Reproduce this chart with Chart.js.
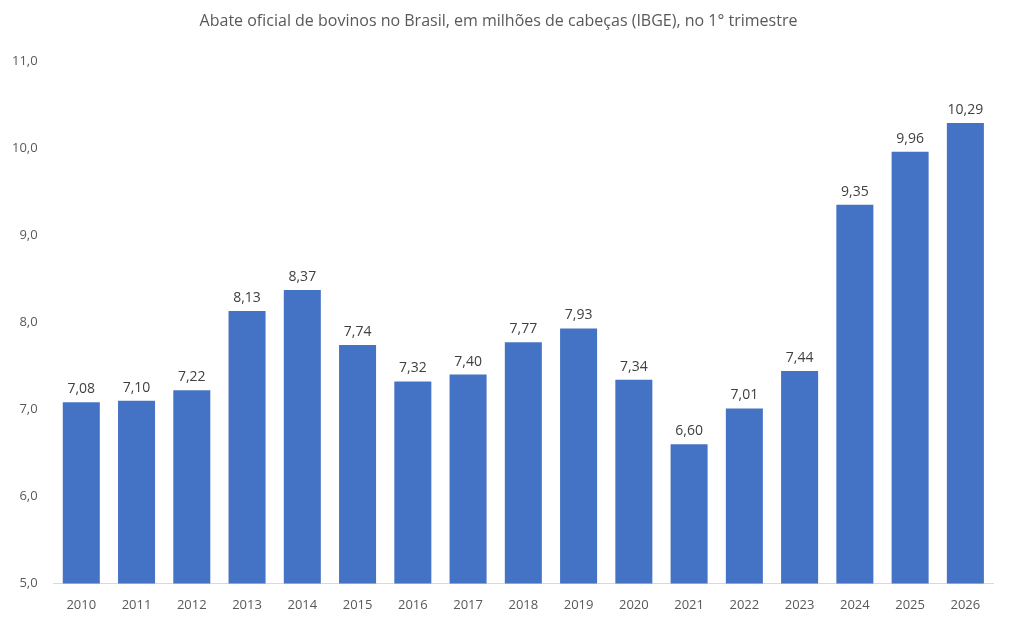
<!DOCTYPE html>
<html>
<head>
<meta charset="utf-8">
<script src="https://cdn.jsdelivr.net/npm/chart.js@4"></script>
<style>
  html, body { margin: 0; padding: 0; background: #fff; }
  #wrap { width: 1011px; height: 629px; }
</style>
</head>
<body>
<div id="wrap"><canvas id="chart"></canvas></div>
<script>
// Dados do gráfico
const anos = ['2010','2011','2012','2013','2014','2015','2016','2017','2018','2019','2020','2021','2022','2023','2024','2025','2026']
const abate = [7.08, 7.10, 7.22, 8.13, 8.37, 7.74, 7.32, 7.40, 7.77, 7.93, 7.34, 6.60, 7.01, 7.44, 9.35, 9.96, 10.29]
const yMin = 5
const yMax = 11

const fmt = (v, d) => v.toFixed(d).replace('.', ',')

// rótulos acima das barras
const rotulos = {
    id: 'rotulos',
    afterDatasetsDraw(chart) {
        const ctx = chart.ctx
        const meta = chart.getDatasetMeta(0)
        ctx.save()
        ctx.font = '14px "Open Sans", sans-serif'
        ctx.fillStyle = '#404040'
        ctx.textAlign = 'center'
        ctx.textBaseline = 'bottom'
        meta.data.forEach((bar, i) => {
            ctx.fillText(fmt(abate[i], 2), bar.x, bar.y - 6)
        })
        ctx.restore()
    }
}

new Chart(document.getElementById('chart'), {
    type: 'bar',
    data: {
        labels: anos,
        datasets: [{
            data: abate,
            backgroundColor: '#4472C4',
            categoryPercentage: 1.0,
            barPercentage: 0.67
        }]
    },
    options: {
        responsive: true,
        maintainAspectRatio: false,
        animation: false,
        layout: { padding: { top: 12, right: 18, left: 4, bottom: 10 } },
        plugins: {
            legend: { display: false },
            tooltip: { enabled: false },
            title: {
                display: true,
                text: 'Abate oficial de bovinos no Brasil, em milhões de cabeças (IBGE), no 1° trimestre',
                color: '#595959',
                font: { family: '"Open Sans", sans-serif', size: 16, weight: 'normal' },
                padding: { top: 0, bottom: 30 }
            }
        },
        scales: {
            y: {
                min: yMin,
                max: yMax,
                ticks: {
                    stepSize: 1,
                    color: '#595959',
                    font: { family: '"Open Sans", sans-serif', size: 13 },
                    callback: v => fmt(v, 1),
                    padding: 8
                },
                grid: { display: false },
                border: { display: false }
            },
            x: {
                ticks: {
                    color: '#595959',
                    font: { family: '"Open Sans", sans-serif', size: 13 },
                    padding: 6
                },
                grid: { display: false },
                border: { color: '#d9d9d9' }
            }
        }
    },
    plugins: [rotulos]
})
</script>
</body>
</html>
